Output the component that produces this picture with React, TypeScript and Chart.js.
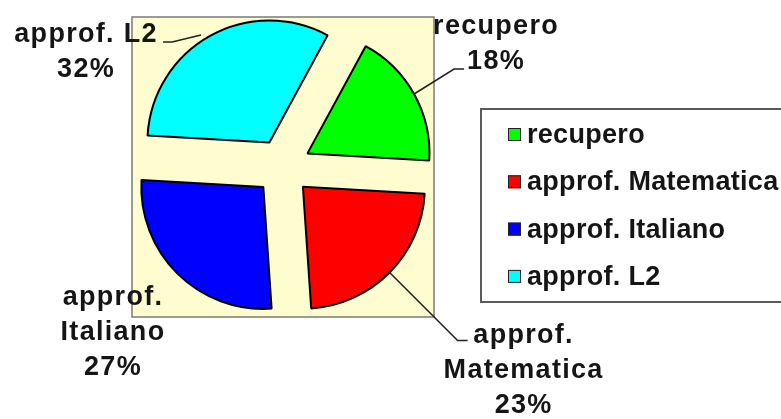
import React, { useEffect, useRef } from "react";
import { Chart, registerables } from "chart.js";

Chart.register(...registerables);

// ---- data ----
const categories = ["recupero", "approf. Matematica", "approf. Italiano", "approf. L2"];
const values = [18, 23, 27, 32];
const sliceColors = ["#00FF00", "#FF0000", "#0000FF", "#00FFFF"];
const wrapLabel = [false, true, true, false];

const FONT = '"Liberation Sans", Arial, sans-serif';

// label placement relative to the outer edge point of each slice (mid-angle)
const labelPlacement = [
  { dx: 82, dy: -60, leader: [[0, 0], [40, -25], [50, -25]] },
  { dx: 134, dy: 70.5, leader: [[0, 0], [68, 68], [78, 68]] },
  { dx: -64.5, dy: 31, leader: null },
  { dx: -124, dy: 6, leader: [[-47, 6], [-38, 6], [-9, -1]] },
];

export default function App() {
  const ref = useRef<HTMLCanvasElement>(null);

  useEffect(() => {
    const canvas = ref.current!;
    const explode = 28;
    const total = values.reduce((a, b) => a + b, 0);

    const plotBg = {
      id: "plotBg",
      beforeDraw(chart: any) {
        const { ctx, chartArea: a } = chart;
        ctx.save();
        ctx.fillStyle = "#FFFDCF";
        ctx.fillRect(a.left, a.top, a.right - a.left, a.bottom - a.top);
        ctx.strokeStyle = "#7a7a7a";
        ctx.lineWidth = 1.5;
        ctx.strokeRect(a.left, a.top, a.right - a.left, a.bottom - a.top);
        ctx.restore();
      },
    };

    const explodePlugin = {
      id: "explode",
      afterDatasetsUpdate(chart: any) {
        const meta = chart.getDatasetMeta(0);
        meta.data.forEach((arc: any) => {
          const mid = (arc.startAngle + arc.endAngle) / 2;
          arc.x += Math.cos(mid) * explode;
          arc.y += Math.sin(mid) * explode;
        });
      },
    };

    const labelsPlugin = {
      id: "sliceLabels",
      afterDatasetsDraw(chart: any) {
        const { ctx } = chart;
        const meta = chart.getDatasetMeta(0);
        ctx.save();
        meta.data.forEach((arc: any, i: number) => {
          const mid = (arc.startAngle + arc.endAngle) / 2;
          const ex = arc.x + Math.cos(mid) * arc.outerRadius;
          const ey = arc.y + Math.sin(mid) * arc.outerRadius;
          const cfg = labelPlacement[i];
          if (cfg.leader) {
            ctx.beginPath();
            cfg.leader.forEach(([dx, dy]: number[], k: number) => {
              if (k === 0) ctx.moveTo(ex + dx, ey + dy);
              else ctx.lineTo(ex + dx, ey + dy);
            });
            ctx.strokeStyle = "#222";
            ctx.lineWidth = 1.6;
            ctx.stroke();
          }
          const pct = Math.round((values[i] / total) * 100) + "%";
          const lines = wrapLabel[i] ? categories[i].split(" ") : [categories[i]];
          lines.push(pct);
          ctx.fillStyle = "#151515";
          ctx.font = `bold 27px ${FONT}`;
          ctx.textAlign = "center";
          ctx.textBaseline = "alphabetic";
          (ctx as any).letterSpacing = "1.3px";
          lines.forEach((t: string, k: number) => {
            ctx.fillText(t, ex + cfg.dx, ey + cfg.dy + k * 35);
          });
          (ctx as any).letterSpacing = "0px";
        });
        ctx.restore();
      },
    };

    const legendPlugin = {
      id: "boxLegend",
      afterDraw(chart: any) {
        const { ctx } = chart;
        const left = 481, top = 109, bottom = 302, right = 800;
        ctx.save();
        ctx.fillStyle = "#fff";
        ctx.fillRect(left, top, right - left, bottom - top);
        ctx.strokeStyle = "#5a5a5a";
        ctx.lineWidth = 2;
        ctx.strokeRect(left, top, right - left, bottom - top);
        const labels: string[] = chart.data.labels;
        const colors: string[] = chart.data.datasets[0].backgroundColor;
        labels.forEach((lab, i) => {
          const base = top + 34 + i * 47.3;
          ctx.fillStyle = colors[i];
          ctx.fillRect(508, base - 15, 13, 13);
          ctx.strokeStyle = "#222";
          ctx.lineWidth = 1;
          ctx.strokeRect(508.5, base - 14.5, 12, 12);
          ctx.fillStyle = "#151515";
          ctx.font = `bold 27px ${FONT}`;
          ctx.textAlign = "left";
          ctx.textBaseline = "alphabetic";
          (ctx as any).letterSpacing = "0.3px";
          ctx.fillText(lab, 527, base);
          (ctx as any).letterSpacing = "0px";
        });
        ctx.restore();
      },
    };

    const chart = new Chart(canvas, {
      type: "pie",
      data: {
        labels: categories,
        datasets: [
          {
            data: values,
            backgroundColor: sliceColors,
            borderColor: "#000",
            borderWidth: 2,
            radius: 122,
          } as any,
        ],
      },
      options: {
        responsive: false,
        animation: false,
        devicePixelRatio: 1,
        rotation: 28.5,
        events: [],
        layout: { padding: { left: 132, top: 17, right: 347, bottom: 102 } },
        plugins: { legend: { display: false }, tooltip: { enabled: false } },
      } as any,
      plugins: [plotBg, explodePlugin, labelsPlugin, legendPlugin],
    });
    return () => chart.destroy();
  }, []);

  return (
    <div style={{ position: "absolute", left: 0, top: 0, width: 781, height: 419, background: "#fff" }}>
      <canvas ref={ref} width={781} height={419} style={{ display: "block" }} />
    </div>
  );
}
